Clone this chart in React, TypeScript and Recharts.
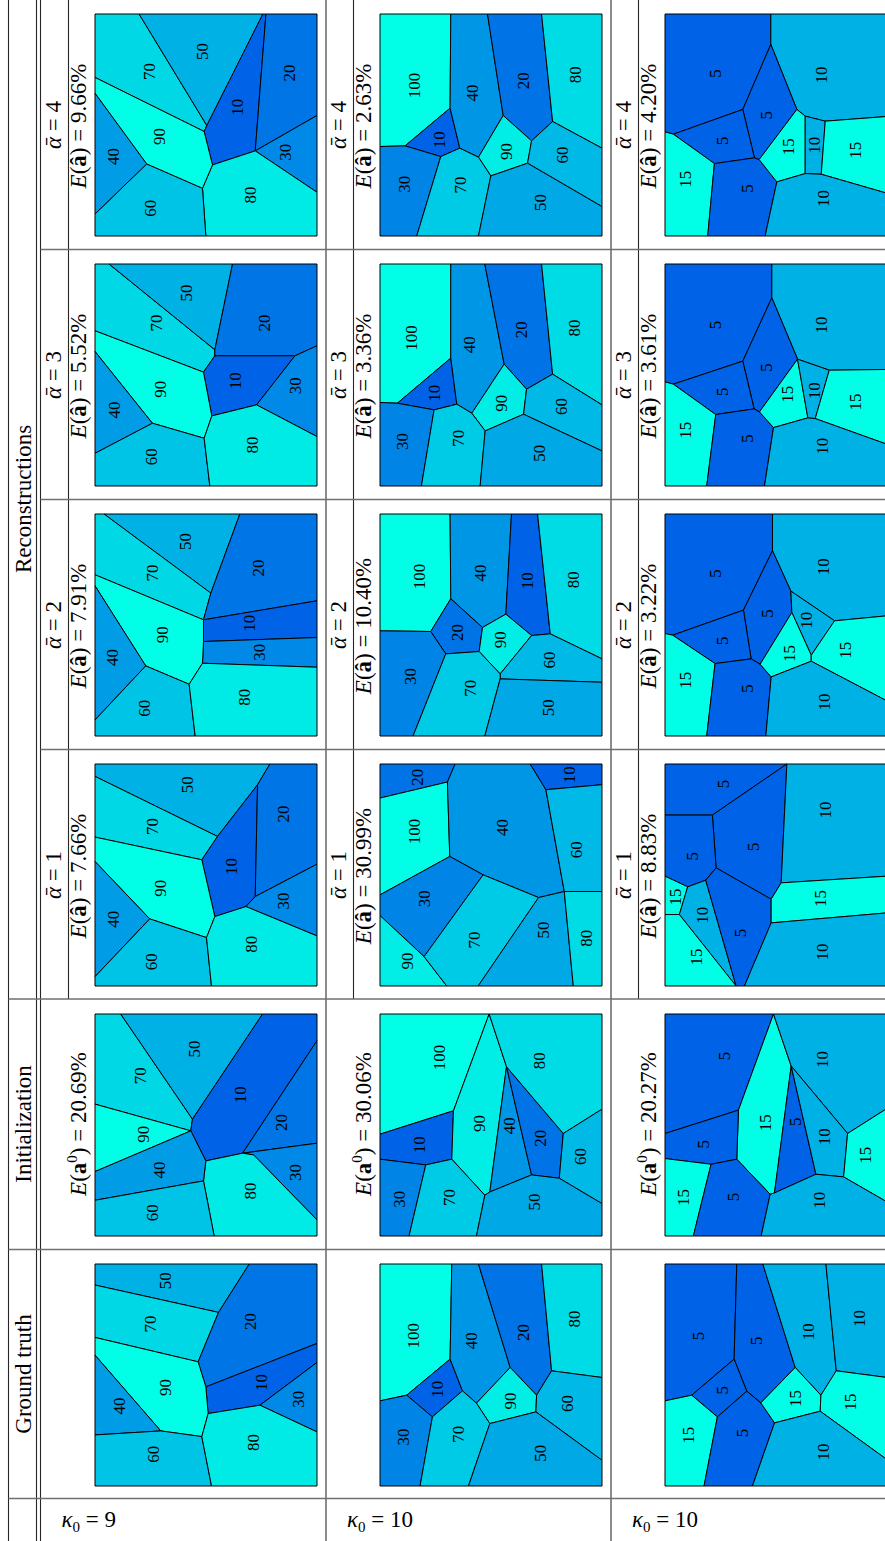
import React from "react";
import { ScatterChart, Scatter, XAxis, YAxis } from "recharts";

type Cell = { v: number; pts: number[][]; at: number[] };

const FONT = "'Liberation Serif', 'DejaVu Serif', 'Times New Roman', serif";
const SPAN = 665; // side of one panel in grid units

// column headers / row headers
const ALPHAS = [4, 3, 2, 1];
const KAPPAS = [9, 10, 10];
const ERR_REC = [
  ["9.66", "5.52", "7.91", "7.66"],
  ["2.63", "3.36", "10.40", "30.99"],
  ["4.20", "3.61", "3.22", "8.83"],
];
const ERR_INIT = ["20.69", "30.06", "20.27"];
const RANGES = [[10, 90], [10, 100], [5, 15]];

// ---- kappa = 9 ----
const A4: Cell[] = [
  { v: 70, pts: [[0, 0], [132, 0], [335, 334], [327, 352], [0, 190]], at: [162, 172] },
  { v: 50, pts: [[132, 0], [503, 0], [335, 334]], at: [322, 112] },
  { v: 10, pts: [[335, 334], [503, 0], [512, 0], [480, 410], [352, 452], [327, 352]], at: [427, 279] },
  { v: 20, pts: [[512, 0], [665, 0], [665, 304], [480, 410]], at: [582, 177] },
  { v: 30, pts: [[480, 410], [665, 304], [665, 534]], at: [572, 414] },
  { v: 80, pts: [[352, 452], [480, 410], [665, 534], [665, 665], [332, 665], [322, 522]], at: [467, 542] },
  { v: 60, pts: [[155, 449], [322, 522], [332, 665], [0, 665], [0, 599]], at: [165, 582] },
  { v: 40, pts: [[0, 237], [155, 449], [0, 599]], at: [55, 427] },
  { v: 90, pts: [[0, 190], [327, 352], [352, 452], [322, 522], [155, 449], [0, 237]], at: [192, 367] },
];
const A3: Cell[] = [
  { v: 70, pts: [[0, 0], [42, 0], [359, 257], [359, 275], [325, 324], [0, 200]], at: [185, 177] },
  { v: 50, pts: [[42, 0], [412, 0], [359, 257]], at: [275, 87] },
  { v: 20, pts: [[412, 0], [665, 0], [665, 245], [599, 275], [359, 275], [359, 257]], at: [507, 177] },
  { v: 10, pts: [[359, 275], [599, 275], [484, 422], [350, 455], [325, 324]], at: [422, 350] },
  { v: 30, pts: [[599, 275], [665, 245], [665, 517], [484, 422]], at: [602, 365] },
  { v: 90, pts: [[0, 200], [325, 324], [350, 455], [327, 522], [172, 477], [0, 262]], at: [197, 375] },
  { v: 40, pts: [[0, 262], [172, 477], [0, 567]], at: [59, 437] },
  { v: 60, pts: [[172, 477], [327, 522], [344, 665], [0, 665], [0, 567]], at: [169, 577] },
  { v: 80, pts: [[350, 455], [484, 422], [665, 517], [665, 665], [344, 665], [327, 522]], at: [472, 542] },
];
const A2: Cell[] = [
  { v: 50, pts: [[27, 0], [434, 0], [347, 237]], at: [272, 82] },
  { v: 70, pts: [[0, 0], [27, 0], [347, 237], [325, 317], [0, 182]], at: [172, 177] },
  { v: 20, pts: [[434, 0], [665, 0], [665, 260], [325, 317], [347, 237]], at: [489, 162] },
  { v: 10, pts: [[325, 317], [665, 260], [665, 370], [325, 382]], at: [462, 327] },
  { v: 30, pts: [[325, 382], [665, 370], [665, 459], [322, 447]], at: [494, 414] },
  { v: 90, pts: [[0, 182], [325, 317], [325, 382], [322, 447], [282, 510], [152, 455], [0, 215]], at: [202, 362] },
  { v: 40, pts: [[0, 215], [152, 455], [0, 617]], at: [52, 430] },
  { v: 60, pts: [[152, 455], [282, 510], [300, 665], [0, 665], [0, 617]], at: [149, 582] },
  { v: 80, pts: [[322, 447], [665, 459], [665, 665], [300, 665], [282, 510]], at: [447, 549] },
];
const A1: Cell[] = [
  { v: 50, pts: [[0, 0], [524, 0], [487, 62], [367, 217], [0, 37]], at: [277, 62] },
  { v: 70, pts: [[0, 37], [367, 217], [320, 287], [0, 219]], at: [172, 187] },
  { v: 10, pts: [[367, 217], [487, 62], [480, 397], [452, 427], [359, 457], [320, 287]], at: [409, 307] },
  { v: 20, pts: [[524, 0], [665, 0], [665, 300], [480, 397], [487, 62]], at: [565, 150] },
  { v: 30, pts: [[480, 397], [665, 300], [665, 515], [452, 427]], at: [565, 410] },
  { v: 90, pts: [[0, 219], [320, 287], [359, 457], [334, 520], [164, 464], [0, 292]], at: [197, 372] },
  { v: 40, pts: [[0, 292], [164, 464], [0, 637]], at: [55, 465] },
  { v: 60, pts: [[164, 464], [334, 520], [349, 665], [0, 665], [0, 637]], at: [169, 592] },
  { v: 80, pts: [[359, 457], [452, 427], [665, 515], [665, 665], [349, 665], [334, 520]], at: [470, 540] },
];
const A_INIT: Cell[] = [
  { v: 70, pts: [[0, 0], [77, 0], [292, 315], [287, 350], [0, 270]], at: [135, 185] },
  { v: 50, pts: [[77, 0], [502, 0], [292, 315]], at: [297, 105] },
  { v: 10, pts: [[502, 0], [665, 0], [665, 80], [442, 417], [332, 440], [287, 350], [292, 315]], at: [437, 242] },
  { v: 20, pts: [[665, 80], [665, 387], [442, 417]], at: [560, 325] },
  { v: 30, pts: [[442, 417], [665, 387], [665, 617], [475, 422]], at: [602, 475] },
  { v: 80, pts: [[332, 440], [442, 417], [475, 422], [665, 617], [665, 665], [357, 665], [325, 500]], at: [465, 530] },
  { v: 90, pts: [[0, 270], [287, 350], [0, 472]], at: [145, 360] },
  { v: 40, pts: [[0, 472], [287, 350], [332, 440], [325, 500], [0, 558]], at: [192, 467] },
  { v: 60, pts: [[0, 558], [325, 500], [357, 665], [0, 665]], at: [172, 595] },
];
const A_GT: Cell[] = [
  { v: 50, pts: [[0, 0], [462, 0], [370, 145], [0, 63]], at: [212, 50] },
  { v: 70, pts: [[0, 63], [370, 145], [309, 293], [0, 220]], at: [167, 180] },
  { v: 20, pts: [[462, 0], [665, 0], [665, 238], [332, 368], [309, 293], [370, 145]], at: [467, 172] },
  { v: 10, pts: [[332, 368], [665, 238], [665, 295], [494, 423], [339, 448]], at: [499, 355] },
  { v: 30, pts: [[494, 423], [665, 295], [665, 503]], at: [609, 405] },
  { v: 90, pts: [[0, 220], [309, 293], [332, 368], [339, 448], [320, 517], [197, 500], [0, 273]], at: [212, 370] },
  { v: 40, pts: [[0, 273], [197, 500], [0, 512]], at: [72, 425] },
  { v: 60, pts: [[0, 512], [197, 500], [320, 517], [349, 665], [0, 665]], at: [174, 570] },
  { v: 80, pts: [[339, 448], [494, 423], [665, 503], [665, 665], [349, 665], [320, 517]], at: [475, 535] },
];

// ---- kappa = 10, values 10..100 ----
const B4: Cell[] = [
  { v: 100, pts: [[0, 0], [212, 0], [210, 282], [75, 395], [0, 397]], at: [102, 214] },
  { v: 10, pts: [[75, 395], [210, 282], [239, 402], [182, 427]], at: [177, 377] },
  { v: 30, pts: [[0, 397], [75, 395], [182, 427], [110, 665], [0, 665]], at: [72, 510] },
  { v: 40, pts: [[212, 0], [322, 0], [369, 304], [295, 429], [239, 402], [210, 282]], at: [277, 237] },
  { v: 20, pts: [[322, 0], [484, 0], [517, 322], [454, 380], [369, 304]], at: [429, 200] },
  { v: 80, pts: [[484, 0], [665, 0], [665, 402], [517, 322]], at: [587, 182] },
  { v: 90, pts: [[369, 304], [454, 380], [442, 447], [332, 485], [295, 429]], at: [380, 412] },
  { v: 70, pts: [[182, 427], [239, 402], [295, 429], [332, 485], [295, 665], [110, 665]], at: [242, 512] },
  { v: 60, pts: [[517, 322], [665, 402], [665, 577], [442, 447], [454, 380]], at: [547, 422] },
  { v: 50, pts: [[332, 485], [442, 447], [665, 577], [665, 665], [295, 665]], at: [480, 565] },
];
const B3: Cell[] = [
  { v: 100, pts: [[0, 0], [212, 0], [212, 282], [52, 417], [0, 415]], at: [94, 222] },
  { v: 10, pts: [[52, 417], [212, 282], [230, 420], [162, 437]], at: [164, 387] },
  { v: 30, pts: [[0, 415], [52, 417], [162, 437], [124, 665], [0, 665]], at: [67, 532] },
  { v: 40, pts: [[212, 0], [314, 0], [372, 300], [275, 447], [230, 420], [212, 282]], at: [269, 242] },
  { v: 20, pts: [[314, 0], [484, 0], [517, 330], [439, 375], [372, 300]], at: [424, 197] },
  { v: 80, pts: [[484, 0], [665, 0], [665, 422], [517, 330]], at: [584, 192] },
  { v: 90, pts: [[372, 300], [439, 375], [430, 450], [315, 500], [275, 447]], at: [364, 417] },
  { v: 70, pts: [[162, 437], [230, 420], [275, 447], [315, 500], [300, 665], [124, 665]], at: [235, 522] },
  { v: 60, pts: [[517, 330], [665, 422], [665, 560], [430, 450], [439, 375]], at: [544, 427] },
  { v: 50, pts: [[315, 500], [430, 450], [665, 560], [665, 665], [300, 665]], at: [477, 567] },
];
const B2: Cell[] = [
  { v: 100, pts: [[0, 0], [210, 0], [212, 254], [152, 352], [0, 350]], at: [117, 187] },
  { v: 40, pts: [[210, 0], [394, 0], [377, 300], [307, 340], [212, 254]], at: [302, 177] },
  { v: 10, pts: [[394, 0], [472, 0], [510, 359], [454, 364], [377, 300]], at: [442, 200] },
  { v: 80, pts: [[472, 0], [665, 0], [665, 434], [510, 359]], at: [579, 197] },
  { v: 20, pts: [[152, 352], [212, 254], [307, 340], [297, 412], [197, 419]], at: [232, 355] },
  { v: 90, pts: [[307, 340], [377, 300], [454, 364], [360, 479], [297, 412]], at: [362, 377] },
  { v: 60, pts: [[454, 364], [510, 359], [665, 434], [665, 504], [360, 494], [360, 479]], at: [507, 437] },
  { v: 30, pts: [[0, 350], [152, 352], [197, 419], [99, 665], [0, 665]], at: [90, 487] },
  { v: 70, pts: [[197, 419], [297, 412], [360, 479], [360, 494], [314, 665], [99, 665]], at: [272, 522] },
  { v: 50, pts: [[360, 494], [665, 504], [665, 665], [314, 665]], at: [504, 580] },
];
const B1: Cell[] = [
  { v: 20, pts: [[0, 0], [225, 0], [202, 54], [0, 102]], at: [112, 40] },
  { v: 100, pts: [[0, 102], [202, 54], [209, 277], [0, 392]], at: [102, 202] },
  { v: 40, pts: [[225, 0], [450, 0], [497, 77], [552, 382], [475, 400], [309, 332], [209, 277], [202, 54]], at: [367, 190] },
  { v: 10, pts: [[450, 0], [665, 0], [665, 62], [497, 77]], at: [569, 32] },
  { v: 60, pts: [[497, 77], [665, 62], [665, 382], [552, 382]], at: [590, 257] },
  { v: 30, pts: [[0, 392], [209, 277], [309, 332], [132, 577], [0, 454]], at: [132, 404] },
  { v: 90, pts: [[0, 454], [132, 577], [200, 665], [0, 665]], at: [82, 590] },
  { v: 70, pts: [[309, 332], [475, 400], [294, 665], [200, 665], [132, 577]], at: [282, 527] },
  { v: 50, pts: [[475, 400], [552, 382], [579, 665], [294, 665]], at: [489, 497] },
  { v: 80, pts: [[552, 382], [665, 382], [665, 665], [579, 665]], at: [619, 522] },
];
const B_INIT: Cell[] = [
  { v: 100, pts: [[0, 0], [327, 0], [220, 290], [0, 360]], at: [177, 130] },
  { v: 10, pts: [[0, 360], [220, 290], [215, 435], [137, 452], [0, 435]], at: [117, 392] },
  { v: 30, pts: [[0, 435], [137, 452], [87, 665], [0, 665]], at: [57, 555] },
  { v: 90, pts: [[327, 0], [379, 158], [329, 533], [314, 543], [215, 435], [220, 290]], at: [297, 328] },
  { v: 40, pts: [[379, 158], [454, 482], [329, 533]], at: [389, 335] },
  { v: 20, pts: [[379, 158], [549, 358], [537, 492], [454, 482]], at: [482, 372] },
  { v: 80, pts: [[327, 0], [665, 0], [665, 285], [549, 358], [379, 158]], at: [477, 140] },
  { v: 60, pts: [[549, 358], [665, 285], [665, 568], [537, 492]], at: [602, 427] },
  { v: 70, pts: [[137, 452], [215, 435], [314, 543], [289, 665], [87, 665]], at: [209, 550] },
  { v: 50, pts: [[314, 543], [329, 533], [454, 482], [537, 492], [665, 568], [665, 665], [289, 665]], at: [462, 563] },
];
const B_GT: Cell[] = [
  { v: 100, pts: [[0, 0], [215, 0], [210, 285], [80, 393], [0, 410]], at: [100, 215] },
  { v: 10, pts: [[80, 393], [210, 285], [247, 380], [157, 458]], at: [172, 375] },
  { v: 40, pts: [[215, 0], [295, 0], [390, 310], [289, 417], [247, 380], [210, 285]], at: [275, 230] },
  { v: 20, pts: [[295, 0], [484, 0], [514, 320], [469, 393], [390, 310]], at: [430, 205] },
  { v: 80, pts: [[484, 0], [665, 0], [665, 340], [514, 320]], at: [582, 165] },
  { v: 90, pts: [[390, 310], [469, 393], [467, 443], [329, 478], [289, 417]], at: [390, 410] },
  { v: 60, pts: [[514, 320], [665, 340], [665, 588], [467, 443], [469, 393]], at: [562, 418] },
  { v: 30, pts: [[0, 410], [80, 393], [157, 458], [120, 665], [0, 665]], at: [70, 518] },
  { v: 70, pts: [[157, 458], [247, 380], [289, 417], [329, 478], [265, 665], [120, 665]], at: [234, 510] },
  { v: 50, pts: [[329, 478], [467, 443], [665, 588], [665, 665], [265, 665]], at: [480, 567] },
];

// ---- kappa = 10, values 5 / 10 / 15 ----
const C4: Cell[] = [
  { v: 5, pts: [[0, 0], [317, 0], [317, 91], [233, 286], [25, 360], [0, 353]], at: [150, 178] },
  { v: 10, pts: [[317, 0], [665, 0], [665, 307], [480, 321], [420, 306], [395, 286], [317, 91]], at: [470, 183] },
  { v: 5, pts: [[233, 286], [317, 91], [395, 286], [282, 436], [268, 431]], at: [305, 303] },
  { v: 5, pts: [[25, 360], [233, 286], [268, 431], [148, 448]], at: [172, 380] },
  { v: 15, pts: [[0, 353], [25, 360], [148, 448], [128, 665], [0, 665]], at: [62, 495] },
  { v: 5, pts: [[148, 448], [268, 431], [282, 436], [335, 503], [300, 665], [128, 665]], at: [248, 523] },
  { v: 15, pts: [[282, 436], [395, 286], [420, 306], [420, 478], [335, 503]], at: [370, 398] },
  { v: 10, pts: [[420, 306], [480, 321], [468, 480], [420, 478]], at: [448, 393] },
  { v: 15, pts: [[480, 321], [665, 307], [665, 537], [468, 480]], at: [570, 408] },
  { v: 10, pts: [[335, 503], [420, 478], [468, 480], [665, 537], [665, 665], [300, 665]], at: [475, 553] },
];
const C3: Cell[] = [
  { v: 5, pts: [[0, 0], [320, 0], [320, 101], [233, 291], [25, 360], [0, 353]], at: [150, 183] },
  { v: 10, pts: [[320, 0], [665, 0], [665, 316], [492, 318], [397, 285], [320, 101]], at: [468, 183] },
  { v: 5, pts: [[233, 291], [320, 101], [397, 285], [283, 443], [267, 434]], at: [305, 310] },
  { v: 5, pts: [[25, 360], [233, 291], [267, 434], [152, 451]], at: [172, 383] },
  { v: 15, pts: [[0, 353], [25, 360], [152, 451], [125, 665], [0, 665]], at: [62, 498] },
  { v: 5, pts: [[152, 451], [267, 434], [283, 443], [325, 490], [298, 665], [125, 665]], at: [248, 523] },
  { v: 15, pts: [[283, 443], [397, 285], [428, 461], [325, 490]], at: [368, 390] },
  { v: 10, pts: [[397, 285], [492, 318], [450, 463], [428, 461]], at: [447, 380] },
  { v: 15, pts: [[492, 318], [665, 316], [665, 540], [450, 463]], at: [570, 413] },
  { v: 10, pts: [[325, 490], [428, 461], [450, 463], [665, 540], [665, 665], [298, 665]], at: [472, 546] },
];
const C2: Cell[] = [
  { v: 5, pts: [[0, 0], [322, 0], [322, 110], [235, 288], [23, 363], [0, 358]], at: [150, 178] },
  { v: 10, pts: [[322, 0], [665, 0], [665, 305], [508, 320], [377, 231], [322, 110]], at: [475, 158] },
  { v: 5, pts: [[235, 288], [322, 110], [377, 231], [380, 295], [285, 450], [258, 434]], at: [308, 298] },
  { v: 5, pts: [[23, 363], [235, 288], [258, 434], [150, 448]], at: [172, 380] },
  { v: 15, pts: [[0, 358], [23, 363], [150, 448], [125, 665], [0, 665]], at: [62, 498] },
  { v: 5, pts: [[150, 448], [258, 434], [285, 450], [318, 488], [302, 665], [125, 665]], at: [248, 523] },
  { v: 10, pts: [[377, 231], [508, 320], [438, 423], [380, 295]], at: [425, 318] },
  { v: 15, pts: [[285, 450], [380, 295], [438, 423], [438, 441], [318, 488]], at: [372, 418] },
  { v: 15, pts: [[508, 320], [665, 305], [665, 560], [438, 441], [438, 423]], at: [542, 408] },
  { v: 10, pts: [[318, 488], [438, 441], [665, 560], [665, 665], [302, 665]], at: [478, 563] },
];
const C1: Cell[] = [
  { v: 5, pts: [[0, 0], [365, 0], [142, 153], [0, 153]], at: [175, 60] },
  { v: 5, pts: [[142, 153], [365, 0], [348, 356], [318, 405], [153, 311]], at: [265, 248] },
  { v: 5, pts: [[0, 153], [142, 153], [153, 311], [122, 348], [68, 368], [0, 336]], at: [82, 276] },
  { v: 15, pts: [[0, 336], [68, 368], [43, 451], [0, 451]], at: [30, 398] },
  { v: 10, pts: [[68, 368], [122, 348], [213, 665], [43, 451]], at: [112, 453] },
  { v: 15, pts: [[0, 451], [43, 451], [213, 665], [0, 665]], at: [95, 578] },
  { v: 5, pts: [[122, 348], [153, 311], [318, 405], [318, 476], [238, 665], [213, 665]], at: [225, 506] },
  { v: 10, pts: [[365, 0], [665, 0], [665, 336], [348, 356]], at: [480, 138] },
  { v: 15, pts: [[348, 356], [665, 336], [665, 446], [318, 476], [318, 405]], at: [465, 403] },
  { v: 10, pts: [[318, 476], [665, 446], [665, 665], [238, 665]], at: [472, 563] },
];
const C_INIT: Cell[] = [
  { v: 5, pts: [[0, 0], [325, 0], [220, 288], [0, 358]], at: [178, 126] },
  { v: 15, pts: [[325, 0], [378, 156], [328, 536], [315, 540], [215, 435], [220, 288]], at: [302, 326] },
  { v: 10, pts: [[325, 0], [665, 0], [665, 283], [547, 358], [378, 156]], at: [472, 136] },
  { v: 5, pts: [[378, 156], [452, 480], [328, 536]], at: [390, 323] },
  { v: 10, pts: [[378, 156], [547, 358], [535, 488], [452, 480]], at: [478, 368] },
  { v: 15, pts: [[547, 358], [665, 283], [665, 563], [535, 488]], at: [600, 423] },
  { v: 5, pts: [[0, 358], [220, 288], [215, 435], [138, 450], [0, 433]], at: [115, 390] },
  { v: 15, pts: [[0, 433], [138, 450], [85, 665], [0, 665]], at: [55, 550] },
  { v: 5, pts: [[138, 450], [215, 435], [315, 540], [288, 665], [85, 665]], at: [205, 548] },
  { v: 10, pts: [[315, 540], [328, 536], [452, 480], [535, 488], [665, 563], [665, 665], [288, 665]], at: [462, 558] },
];
const C_GT: Cell[] = [
  { v: 5, pts: [[0, 0], [215, 0], [207, 285], [80, 393], [0, 410]], at: [100, 216] },
  { v: 5, pts: [[215, 0], [293, 0], [390, 310], [287, 416], [245, 381], [207, 285]], at: [275, 230] },
  { v: 10, pts: [[293, 0], [482, 0], [513, 320], [467, 393], [390, 310]], at: [430, 203] },
  { v: 10, pts: [[482, 0], [665, 0], [665, 340], [513, 320]], at: [582, 163] },
  { v: 5, pts: [[80, 393], [207, 285], [245, 381], [157, 458]], at: [172, 378] },
  { v: 15, pts: [[0, 410], [80, 393], [157, 458], [117, 665], [0, 665]], at: [70, 513] },
  { v: 5, pts: [[157, 458], [245, 381], [287, 416], [328, 476], [262, 665], [117, 665]], at: [232, 506] },
  { v: 15, pts: [[287, 416], [390, 310], [467, 393], [465, 441], [328, 476]], at: [390, 403] },
  { v: 15, pts: [[467, 393], [513, 320], [665, 340], [665, 586], [465, 441]], at: [555, 413] },
  { v: 10, pts: [[328, 476], [465, 441], [665, 586], [665, 665], [262, 665]], at: [475, 563] },
];

const PANELS = [
  [A4, A3, A2, A1, A_INIT, A_GT],
  [B4, B3, B2, B1, B_INIT, B_GT],
  [C4, C3, C2, C1, C_INIT, C_GT],
];

// layout
const COL_LEFT = [40.5, 326, 611];
const PANEL_X = [94.5, 379.5, 665];
const PANEL_Y = [14, 264, 514, 764, 1013.5, 1263.5];
const PANEL_PX = 222;
const GRAY = "#6f6f6f";
const DARK = "#262626";

function shade(v: number, lo: number, hi: number) {
  const t = (v - lo) / (hi - lo);
  return `rgb(0,${Math.round(98 + 157 * t)},230)`;
}

const NumLabel = (p: any) => (
  <text
    x={p.cx}
    y={p.cy}
    transform={`rotate(-90 ${p.cx} ${p.cy})`}
    textAnchor="middle"
    dominantBaseline="central"
    style={{ fontFamily: FONT, fontSize: 17 }}
    fill="#000"
  >
    {p.payload.v}
  </text>
);

function Voronoi({ cells, range, left, top }: { cells: Cell[]; range: number[]; left: number; top: number }) {
  const labels = cells.map((c) => ({ x: c.at[0], y: c.at[1], v: c.v }));
  return (
    <div style={{ position: "absolute", left: left - 1, top: top - 1 }}>
      <ScatterChart width={PANEL_PX + 2} height={PANEL_PX + 2} margin={{ top: 1, right: 1, bottom: 1, left: 1 }}>
        <XAxis type="number" dataKey="x" domain={[0, SPAN]} hide />
        <YAxis type="number" dataKey="y" domain={[0, SPAN]} reversed hide />
        {cells.map((c, i) => (
          <Scatter
            key={i}
            data={c.pts.map(([x, y]) => ({ x, y }))}
            fill={shade(c.v, range[0], range[1])}
            line={{ fill: shade(c.v, range[0], range[1]), stroke: "#000", strokeWidth: 1 }}
            lineJointType="linearClosed"
            shape={() => <g />}
            isAnimationActive={false}
          />
        ))}
        <Scatter data={labels} shape={NumLabel} isAnimationActive={false} />
      </ScatterChart>
    </div>
  );
}

function Rot({ x, y, size = 23, children }: { x: number; y: number; size?: number; children: React.ReactNode }) {
  return (
    <text
      transform={`translate(${x} ${y}) rotate(-90)`}
      textAnchor="middle"
      style={{ fontFamily: FONT, fontSize: size }}
      fill="#000"
    >
      {children}
    </text>
  );
}

function Table() {
  const vLines = [
    [8.5, 0, 1541, DARK],
    [36.5, 0, 1541, DARK],
    [40.5, 0, 1541, DARK],
    [326, 0, 1541, GRAY],
    [611, 0, 1541, GRAY],
    [68.5, 0, 999, DARK],
    [353.5, 0, 999, DARK],
    [638.5, 0, 999, DARK],
  ];
  const hLines = [
    [249.5, 40.5],
    [499.5, 40.5],
    [749.5, 40.5],
    [999, 8.5],
    [1249.5, 8.5],
    [1498.5, 8.5],
  ];
  return (
    <svg width={885} height={1541} style={{ position: "absolute", left: 0, top: 0 }}>
      {vLines.map(([x, y1, y2, c], i) => (
        <line key={"v" + i} x1={x} x2={x} y1={y1} y2={y2} stroke={c as string} strokeWidth={c === GRAY ? 1.6 : 1.1} />
      ))}
      {hLines.map(([y, x1], i) => (
        <line key={"h" + i} x1={x1} x2={885} y1={y} y2={y} stroke={GRAY} strokeWidth={1.4} />
      ))}
      <Rot x={31} y={499}>Reconstructions</Rot>
      <Rot x={31} y={1124}>Initialization</Rot>
      <Rot x={31} y={1374}>Ground truth</Rot>
      {COL_LEFT.map((cx, ci) => (
        <g key={"c" + ci}>
          {ALPHAS.map((a, ri) => (
            <g key={ri}>
              <Rot x={cx + 20} y={125 + ri * 250}>
                <tspan fontStyle="italic">ᾱ</tspan> = {a}
              </Rot>
              <Rot x={cx + 45} y={126 + ri * 250}>
                <tspan fontStyle="italic">E</tspan>(<tspan fontWeight="bold">â</tspan>) = {ERR_REC[ci][ri]}%
              </Rot>
            </g>
          ))}
          <Rot x={cx + 45} y={1124}>
            <tspan fontStyle="italic">E</tspan>(<tspan fontWeight="bold">a</tspan>
            <tspan dy={-9} fontSize={15}>0</tspan>
            <tspan dy={9}>) = {ERR_INIT[ci]}%</tspan>
          </Rot>
          <text x={cx + 21} y={1527} style={{ fontFamily: FONT, fontSize: 23 }} fill="#000">
            <tspan fontStyle="italic">κ</tspan>
            <tspan dy={5} fontSize={15}>0</tspan>
            <tspan dy={-5}> = {KAPPAS[ci]}</tspan>
          </text>
        </g>
      ))}
    </svg>
  );
}

export default function App() {
  return (
    <div
      style={{
        position: "absolute",
        left: 0,
        top: 0,
        width: 885,
        height: 1541,
        overflow: "hidden",
        background: "#fff",
        fontFamily: FONT,
      }}
    >
      <Table />
      {PANELS.map((col, ci) =>
        col.map((cells, ri) => (
          <Voronoi key={ci + "-" + ri} cells={cells} range={RANGES[ci]} left={PANEL_X[ci]} top={PANEL_Y[ri]} />
        ))
      )}
    </div>
  );
}
